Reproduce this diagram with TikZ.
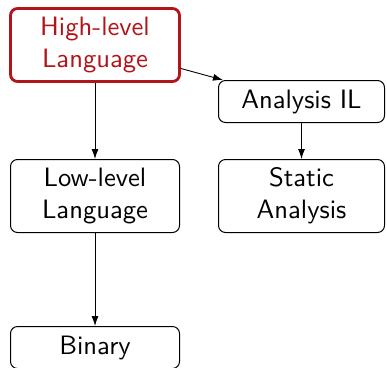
\documentclass[tikz,border=0pt]{standalone}
\usepackage{fontspec}
\newfontfamily\labelsans{lmsans10-regular.otf}
\usetikzlibrary{arrows.meta}
\definecolor{hlred}{RGB}{178,20,26}
\begin{document}
\begin{tikzpicture}[x=1pt,y=-1pt,
  box/.style={draw=black,line width=1pt,rounded corners=7pt,inner sep=0pt,
    align=center,font=\fontsize{26.6}{31.7}\selectfont\labelsans},
  tall/.style={minimum width=169pt,minimum height=73pt},
  short/.style={minimum width=169pt,minimum height=42pt},
  hilite/.style={draw=hlred,text=hlred,line width=2.8pt},
  link/.style={draw=black,line width=0.9pt,-{Latex[length=10pt,width=7pt]}}]
  \useasboundingbox (0,0) rectangle (387,367);
  % main compilation chain
  \node[box,tall,hilite] (hl) at (95,45) {High-level\\Language};
  \node[box,tall] (ll) at (95,196) {Low-level\\Language};
  \node[box,short] (bin) at (95,347.5) {Binary};
  % analysis branch
  \node[box,short,minimum width=166pt] (ail) at (301.5,101.5) {Analysis IL};
  \node[box,tall,minimum width=166pt] (sa) at (301.5,196) {Static\\Analysis};
  \draw[link] (hl) -- (ll);
  \draw[link] (ll) -- (bin);
  \draw[link] (hl) -- (ail);
  \draw[link] (ail) -- (sa);
\end{tikzpicture}
\end{document}
